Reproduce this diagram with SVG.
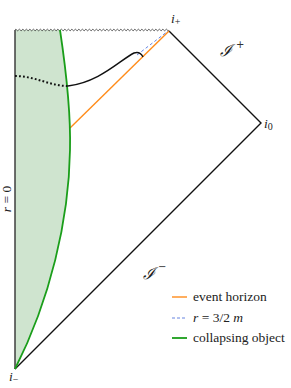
<svg xmlns="http://www.w3.org/2000/svg" width="291" height="388" viewBox="0 0 291 388">
<style>
text{font-family:"Liberation Serif","DejaVu Serif",serif;fill:#222}
.lbl{font-size:13.5px}
.it{font-style:italic}
.sub{font-size:10px;font-style:normal}
.sup{font-family:"DejaVu Sans",sans-serif;font-size:10px;fill:#333}
.bd{fill:none;stroke:#111;stroke-width:1.4}
</style>
<rect width="291" height="388" fill="#fff"/>
<g id="interior">
<path d="M15,30 L60,30 C66,70 71,110 70,150 C69,220 50,300 15,369 Z" fill="#cfe4cf"/>
</g>
<g id="connectors">
<path id="singularity" d="M15,30 q0.875,-1.6 1.75,0 t1.75,0 t1.75,0 t1.75,0 t1.75,0 t1.75,0 t1.75,0 t1.75,0 t1.75,0 t1.75,0 t1.75,0 t1.75,0 t1.75,0 t1.75,0 t1.75,0 t1.75,0 t1.75,0 t1.75,0 t1.75,0 t1.75,0 t1.75,0 t1.75,0 t1.75,0 t1.75,0 t1.75,0 t1.75,0 t1.75,0 t1.75,0 t1.75,0 t1.75,0 t1.75,0 t1.75,0 t1.75,0 t1.75,0 t1.75,0 t1.75,0 t1.75,0 t1.75,0 t1.75,0 t1.75,0 t1.75,0 t1.75,0 t1.75,0 t1.75,0 t1.75,0 t1.75,0 t1.75,0 t1.75,0 t1.75,0 t1.75,0 t1.75,0 t1.75,0 t1.75,0 t1.75,0 t1.75,0 t1.75,0 t1.75,0 t1.75,0 t1.75,0 t1.75,0 t1.75,0 t1.75,0 t1.75,0 t1.75,0 t1.75,0 t1.75,0 t1.75,0 t1.75,0 t1.75,0 t1.75,0 t1.75,0 t1.75,0 t1.75,0 t1.75,0 t1.75,0 t1.75,0 t1.75,0 t1.75,0 t1.75,0 t1.75,0 t1.75,0 t1.75,0 t1.75,0 t1.75,0 t1.75,0 t1.75,0 t1.75,0 t1.75,0" fill="none" stroke="#333" stroke-width="0.8"/>
<path id="r0" d="M15,30 L15,369" fill="none" stroke="#333" stroke-width="1.4"/>
<path id="scri" d="M169,31 L261,123 L15,369" class="bd"/>
<path id="horizon" d="M70,128 L169,31" fill="none" stroke="#ff8c1a" stroke-width="1.4"/>
<path id="r32m" d="M137,55 L168,31" fill="none" stroke="#5577dd" stroke-width="0.9" stroke-dasharray="3,2.5"/>
<path id="object" d="M60,30 C66,70 71,110 70,150 C69,220 50,300 15,369" fill="none" stroke="#1a9e1a" stroke-width="1.8"/>
<path id="dotted" d="M15,76 C35,76 50,86 68,86" fill="none" stroke="#111" stroke-width="2" stroke-dasharray="1.8,2.2"/>
<path id="ray" d="M68,86 C100,82 120,60 134,53 Q140,51 143,57" class="bd" stroke-width="1.8"/>
</g>
<g id="labels">
<text class="lbl it" x="171" y="23">i<tspan class="sub" dy="2">+</tspan></text>
<text class="lbl it" x="264" y="128">i<tspan class="sub" dy="2">0</tspan></text>
<text class="lbl it" x="9" y="381">i<tspan class="sub" dy="2">−</tspan></text>
<text class="it" x="220" y="56" font-size="16">ℐ</text>
<text class="sup" x="236" y="48">+</text>
<text class="it" x="143" y="279" font-size="16">ℐ</text>
<text class="sup" x="158" y="270">−</text>
<text class="lbl" transform="translate(11,199) rotate(-90)" text-anchor="middle" font-size="12"><tspan class="it">r</tspan> = 0</text>
</g>
<g id="legend">
<line x1="172" y1="297" x2="187" y2="297" stroke="#ff8c1a" stroke-width="1.4"/>
<text class="lbl" x="193" y="301">event horizon</text>
<line x1="172" y1="318" x2="187" y2="318" stroke="#5577dd" stroke-width="0.9" stroke-dasharray="3,2"/>
<text class="lbl" x="193" y="322"><tspan class="it">r</tspan> = 3/2 <tspan class="it">m</tspan></text>
<line x1="172" y1="338" x2="187" y2="338" stroke="#1a9e1a" stroke-width="1.8"/>
<text class="lbl" x="193" y="342">collapsing object</text>
</g>
</svg>
